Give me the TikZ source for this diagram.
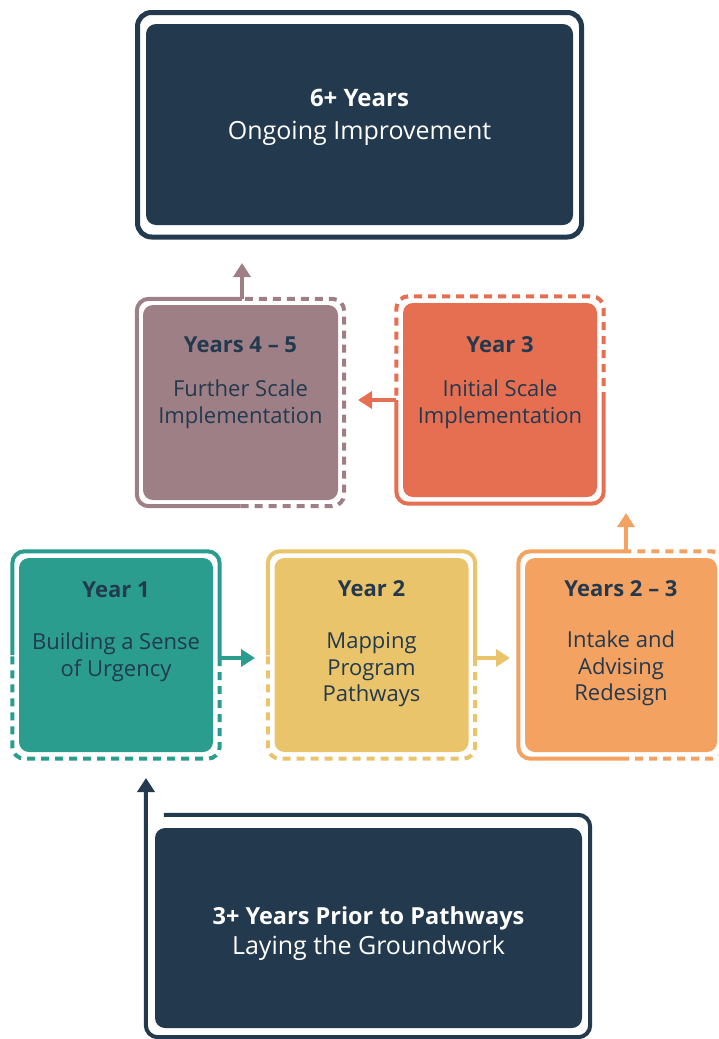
\documentclass[tikz,border=0pt]{standalone}
\usepackage{fontspec}
\setmainfont{Open Sans}
\usetikzlibrary{arrows.meta,calc,positioning}

\definecolor{navy}{HTML}{23394E}
\definecolor{teal1}{HTML}{2A9D8F}
\definecolor{gold}{HTML}{E9C46A}
\definecolor{sand}{HTML}{F4A261}
\definecolor{coral}{HTML}{E76F51}
\definecolor{mauve}{HTML}{9E7F86}

\begin{document}
\begin{tikzpicture}[x=1pt, y=-1pt,
    stage/.style = {shape=rectangle, rounded corners=10, inner sep=0pt,
      minimum width=194, minimum height=194},
    rimbox/.style = {shape=rectangle, inner sep=0pt,
      minimum width=207, minimum height=207},
    rim/.style = {line width=4pt, rounded corners=12},
    rimdash/.style = {rim, dash pattern=on 8pt off 6pt},
    hop/.style = {line width=4pt, -{Triangle[length=14pt, width=17pt]}},
    head/.style = {anchor=base, text=navy, font=\bfseries\fontsize{22}{26}\selectfont},
    body/.style = {anchor=base, align=center, text=navy,
      font=\fontsize{22}{26.5}\selectfont}]
  \useasboundingbox (0,0) rectangle (718,1039);
  \clip (0,0) rectangle (718,1039);

  % top box
  \node[stage, fill=navy, minimum width=427, minimum height=201] (top) at (359.5,124.5) {};
  \node[rimbox, draw=navy, line width=5pt, rounded corners=14,
    minimum width=444, minimum height=224.5] (ftop) at (359.5,124.75) {};
  \node[head, text=white, font=\bfseries\fontsize{24}{30}\selectfont] (toph) at ($(top.north)+(0,83)$) {6+ Years};
  \node[body, text=white, font=\fontsize{25}{30}\selectfont] (topb) at ($(top.north)+(0,116)$) {Ongoing Improvement};

  % years 4-5
  \node[stage, fill=mauve, minimum width=195, minimum height=195] (y45) at (240.5,402.5) {};
  \node[rimbox] (f45) at (y45) {};
  \node[head] (y45h) at ($(y45.north)+(0,48)$) {Years 4 -- 5};
  \node[body] (y45b) at ($(y45.north)+(0,118.5)$) {Further Scale\\Implementation};
  \coordinate (t45) at (242,263);
  \draw[rim, mauve] (f45.north) ++(1.5,0) coordinate (s45) -- (f45.north west) -- (f45.south west) -- (f45.south);
  \draw[rimdash, mauve] (f45.south) -- (f45.south east) -- (f45.north east) -- (s45);
  \draw[hop, mauve] (s45) -- (t45);

  % year 3
  \node[stage, fill=coral] (y3) at (500,400) {};
  \node[rimbox] (f3) at (y3) {};
  \node[head] (y3h) at ($(y3.north)+(0,50)$) {Year 3};
  \node[body] (y3b) at ($(y3.north)+(0,120.5)$) {Initial Scale\\Implementation};
  \coordinate (t3) at (358,400);
  \draw[rim, coral] (f3.west) -- (f3.south west) -- (f3.south east) -- (f3.east);
  \draw[rimdash, coral] (f3.east) -- (f3.north east) -- (f3.north west) -- (f3.west);
  \draw[hop, coral] (f3.west) -- (t3);

  % year 1
  \node[stage, fill=teal1] (y1) at (116,655) {};
  \node[rimbox] (f1) at (y1) {};
  \node[head] (y1h) at ($(y1.north)+(0,40)$) {Year 1};
  \node[body] (y1b) at ($(y1.north)+(0,118.5)$) {Building a Sense\\of Urgency};
  \coordinate (m1) at ($(f1.east)+(0,3)$);
  \coordinate (t1) at (255,658);
  \draw[rim, teal1] (f1.west) -- (f1.north west) -- (f1.north east) -- (m1);
  \draw[rimdash, teal1] (m1) -- (f1.south east) -- (f1.south west) -- (f1.west);
  \draw[hop, teal1] (m1) -- (t1);

  % year 2
  \node[stage, fill=gold] (y2) at (371.5,655) {};
  \node[rimbox] (f2) at (y2) {};
  \node[head] (y2h) at ($(y2.north)+(0,39)$) {Year 2};
  \node[body] (y2b) at ($(y2.north)+(0,144)$) {Mapping\\Program\\Pathways};
  \coordinate (m2) at ($(f2.east)+(0,3)$);
  \coordinate (t2) at (510,658);
  \draw[rim, gold] (f2.west) -- (f2.north west) -- (f2.north east) -- (m2);
  \draw[rimdash, gold] (m2) -- (f2.south east) -- (f2.south west) -- (f2.west);
  \draw[hop, gold] (m2) -- (t2);

  % years 2-3
  \node[stage, fill=sand, minimum width=192] (y23) at (621,655) {};
  \node[rimbox, minimum width=205] (f23) at (y23) {};
  \node[head] (y23h) at ($(y23.north)+(0,39)$) {Years 2 -- 3};
  \node[body] (y23b) at ($(y23.north)+(0,143)$) {Intake and\\Advising\\Redesign};
  \coordinate (m23) at ($(f23.north)+(5,0)$);
  \coordinate (t23) at (626,513);
  \draw[rim, sand] (m23) -- (f23.north west) -- (f23.south west) -- (f23.south);
  \draw[rimdash, sand] (f23.south) -- (f23.south east) -- (f23.north east) -- (m23);
  \draw[hop, sand] (m23) -- (t23);

  % bottom box
  \node[stage, fill=navy, minimum width=427, minimum height=200] (bot) at (368.5,928) {};
  \node[rimbox, minimum width=444, minimum height=222] (fbot) at (368,926) {};
  \node[head, text=white, font=\bfseries\fontsize{23.5}{30}\selectfont] (both) at ($(bot.north)+(0,97)$) {3+ Years Prior to Pathways};
  \node[body, text=white, font=\fontsize{25}{30}\selectfont] (botb) at ($(bot.north)+(0,127)$) {Laying the Groundwork};
  \coordinate (tb) at (146,778);
  \draw[rim, navy, -{Triangle[length=14pt, width=17pt]}] ($(fbot.north west)+(18,0)$) -- (fbot.north east)
    -- (fbot.south east) -- (fbot.south west) -- (tb);
\end{tikzpicture}
\end{document}
